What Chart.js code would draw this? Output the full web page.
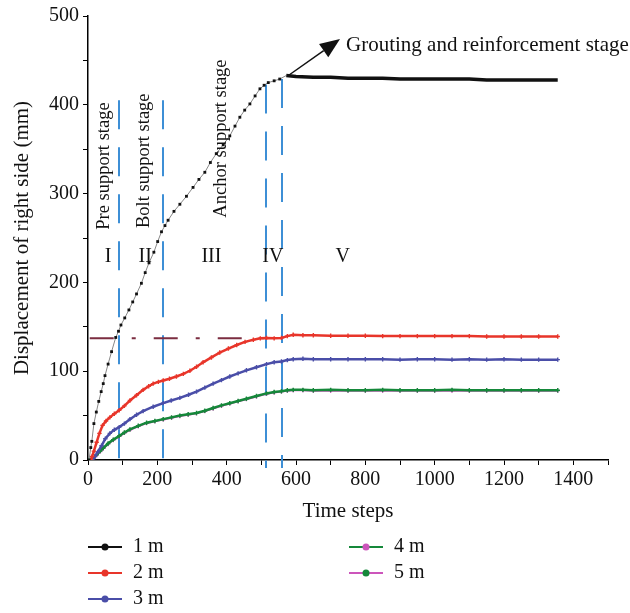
<!DOCTYPE html>
<html>
<head>
<meta charset="utf-8">
<script src="https://cdn.jsdelivr.net/npm/chart.js@4.4.0/dist/chart.umd.min.js"></script>
<style>
  html, body { margin: 0; padding: 0; background: #fff; }
  #wrap { width: 630px; height: 613px; position: relative; }
</style>
</head>
<body>
<div id="wrap"><canvas id="dispChart"></canvas></div>
<script>
// values (time step / displacement in mm)
const seriesNames = ['1 m', '2 m', '3 m', '4 m', '5 m'];

const steps1m = [3, 8, 11, 17, 24, 31, 38, 44, 49, 58, 68, 80, 88, 95, 106, 118, 129, 140, 154, 165, 176, 190, 201, 212, 222, 231, 248, 265, 284, 303, 320, 337, 353, 370, 390, 409, 424, 438, 452, 467, 482, 496, 508, 520, 537, 553, 572, 600, 650, 700, 750, 800, 850, 900, 950, 1000, 1050, 1100, 1150, 1200, 1250, 1300, 1355];
const disp1m = [0, 14, 21, 41, 54, 66, 77, 86, 95, 108, 122, 138, 145, 152, 160, 169, 178, 187, 199, 211, 222, 234, 246, 257, 264, 270, 280, 288, 297, 307, 316, 324, 335, 345, 355, 365, 376, 386, 394, 401, 410, 418, 422, 425, 427, 429, 433, 432, 431, 431, 430, 430, 430, 429, 429, 429, 429, 429, 428, 428, 428, 428, 428];

const steps2m = [8, 12, 17, 25, 33, 42, 52, 63, 76, 90, 105, 121, 140, 159, 175, 188, 203, 217, 235, 255, 275, 294, 313, 332, 356, 380, 405, 429, 453, 477, 497, 515, 537, 558, 575, 592, 620, 650, 700, 750, 800, 850, 900, 950, 1000, 1050, 1100, 1150, 1200, 1250, 1300, 1355];
const disp2m = [0, 4, 10, 20, 30, 39, 44, 48, 52, 56, 61, 67, 73, 79, 83, 86, 88, 89.5, 91.5, 94, 97, 100.5, 105, 110, 115.5, 121, 125.5, 129.5, 133, 135.5, 137, 137.5, 137, 137.5, 139.5, 141, 140.5, 140.5, 140, 140, 140, 139.5, 139.5, 139.5, 139.5, 139.5, 139.5, 139, 139, 139, 139, 139];

const steps3m = [12, 20, 28, 39, 50, 63, 76, 90, 105, 121, 140, 159, 188, 217, 240, 265, 290, 313, 337, 361, 385, 409, 433, 457, 486, 515, 537, 558, 575, 592, 620, 650, 700, 750, 800, 850, 900, 950, 1000, 1050, 1100, 1150, 1200, 1250, 1300, 1355];
const disp3m = [0, 4, 9, 16, 24, 30, 34, 37, 41, 46, 51, 55, 60, 64, 67, 70, 73.5, 77, 81.5, 86, 90, 94, 97.5, 101, 104.5, 108, 110, 111, 112.5, 113.5, 114, 113.5, 113.5, 113.5, 113.5, 113.5, 113, 113.5, 113.5, 113, 113.5, 113, 113.5, 113, 113, 113];

const stepsGreen = [0, 15, 25, 35, 44, 58, 73, 90, 105, 121, 145, 169, 193, 217, 241, 265, 289, 313, 337, 361, 385, 409, 433, 457, 486, 515, 537, 558, 575, 592, 620, 650, 700, 750, 800, 850, 900, 950, 1000, 1050, 1100, 1150, 1200, 1250, 1300, 1355];
const disp4m = [0, 2, 6, 10, 13.5, 18.5, 23, 27, 31, 34.5, 38.5, 42, 44, 46, 48, 50, 51.5, 53, 55.5, 58.5, 61.5, 64, 66.5, 69, 72, 75, 76.5, 77.5, 78.5, 79, 79, 78.5, 79, 78.5, 78.5, 79, 78.5, 78.5, 78.5, 79, 78.5, 78.5, 78.5, 78.5, 78.5, 78.5];
const disp5m = [0, 1.5, 5.5, 9.5, 13, 18, 22.5, 26.5, 30.5, 34, 38, 41.5, 43.5, 45.5, 47.5, 49.5, 51, 52.5, 55, 58, 61, 63.5, 66, 68.5, 71.5, 74.5, 76, 77, 78, 78.5, 78.5, 78, 78, 78, 78, 78, 78, 78, 78, 78, 78, 78, 78, 78, 78, 78];

// stage boundaries (time step) and how high each dashed line reaches (mm)
const stageSteps = [90, 215, 513, 559];
const stageTops = [405, 405, 423, 429];
const stageNumerals = ['I', 'II', 'III', 'IV', 'V'];
const numeralSteps = [58, 165, 356, 533, 735];
const stageNames = ['Pre support stage', 'Bolt support stage', 'Anchor support stage'];
const stageNameSteps = [46, 161, 383];
const stageNameLevels = [331, 337, 362];
const limitLevel = 137;
const limitRange = [5, 545];
const arrowFrom = [578, 433];
const arrowTo = [727, 474];

const colors = {
    black: '#111111',
    red: '#e8352a',
    blue: '#4a4ea8',
    green: '#15883a',
    magenta: '#cc55bb'
};

const serif = "'Liberation Serif', 'DejaVu Serif', serif";

function pairs(xs, ys) {
    return xs.map((x, i) => ({ x: x, y: ys[i] }));
}

const annotations = {
    id: 'annotations',
    beforeDatasetsDraw(chart) {
        const ctx = chart.ctx;
        const xs = chart.scales.x, ys = chart.scales.y;
        ctx.save();
        // dashed stage boundaries
        ctx.strokeStyle = '#3d8fd6';
        ctx.lineWidth = 2;
        ctx.setLineDash([29, 18]);
        stageSteps.forEach((s, i) => {
            const px = Math.round(xs.getPixelForValue(s));
            ctx.beginPath();
            ctx.moveTo(px, ys.getPixelForValue(stageTops[i]));
            ctx.lineTo(px, ys.getPixelForValue(0) + 8);
            ctx.stroke();
        });
        // dash-dot limit line
        ctx.strokeStyle = '#7b2d40';
        ctx.lineWidth = 2;
        ctx.setLineDash([24, 18, 4, 18]);
        ctx.beginPath();
        const py = ys.getPixelForValue(limitLevel);
        ctx.moveTo(xs.getPixelForValue(limitRange[0]), py);
        ctx.lineTo(xs.getPixelForValue(limitRange[1]), py);
        ctx.stroke();
        ctx.restore();
    },
    afterDraw(chart) {
        const ctx = chart.ctx;
        const xs = chart.scales.x, ys = chart.scales.y;
        ctx.save();
        ctx.fillStyle = '#111';
        ctx.textAlign = 'center';
        ctx.textBaseline = 'middle';

        // roman numerals
        ctx.font = '20px ' + serif;
        stageNumerals.forEach((n, i) => {
            ctx.fillText(n, xs.getPixelForValue(numeralSteps[i]), ys.getPixelForValue(229));
        });

        // rotated stage names
        ctx.font = '18.5px ' + serif;
        stageNames.forEach((name, i) => {
            ctx.save();
            ctx.translate(xs.getPixelForValue(stageNameSteps[i]), ys.getPixelForValue(stageNameLevels[i]));
            ctx.rotate(-Math.PI / 2);
            ctx.fillText(name, 0, 0);
            ctx.restore();
        });

        // arrow to the grouting label
        const x0 = xs.getPixelForValue(arrowFrom[0]), y0 = ys.getPixelForValue(arrowFrom[1]);
        const x1 = xs.getPixelForValue(arrowTo[0]), y1 = ys.getPixelForValue(arrowTo[1]);
        const ang = Math.atan2(y1 - y0, x1 - x0);
        const headLen = 20, headW = 8;
        const bx = x1 - headLen * Math.cos(ang), by = y1 - headLen * Math.sin(ang);
        ctx.strokeStyle = '#111';
        ctx.lineWidth = 1.5;
        ctx.beginPath();
        ctx.moveTo(x0, y0);
        ctx.lineTo(bx, by);
        ctx.stroke();
        ctx.beginPath();
        ctx.moveTo(x1, y1);
        ctx.lineTo(bx + headW * Math.sin(ang), by - headW * Math.cos(ang));
        ctx.lineTo(bx - headW * Math.sin(ang), by + headW * Math.cos(ang));
        ctx.closePath();
        ctx.fill();

        ctx.textAlign = 'left';
        ctx.font = '21px ' + serif;
        ctx.fillText('Grouting and reinforcement stage', x1 + 6, y1 + 6);

        // legend, two columns
        const legendItems = [
            { line: colors.black, dot: colors.black, col: 0, row: 0 },
            { line: colors.red, dot: colors.red, col: 0, row: 1 },
            { line: colors.blue, dot: colors.blue, col: 0, row: 2 },
            { line: colors.green, dot: colors.magenta, col: 1, row: 0 },
            { line: colors.magenta, dot: colors.green, col: 1, row: 1 }
        ];
        ctx.font = '20px ' + serif;
        legendItems.forEach((it, i) => {
            const lx = it.col === 0 ? 88 : 349;
            const ly = 547 + it.row * 26;
            ctx.strokeStyle = it.line;
            ctx.lineWidth = 2;
            ctx.beginPath();
            ctx.moveTo(lx, ly);
            ctx.lineTo(lx + 34, ly);
            ctx.stroke();
            ctx.fillStyle = it.dot;
            ctx.beginPath();
            ctx.arc(lx + 17, ly, 3.5, 0, Math.PI * 2);
            ctx.fill();
            ctx.fillStyle = '#111';
            ctx.fillText(seriesNames[i], lx + 45, ly);
        });
        ctx.restore();
    }
};

const ctx = document.getElementById('dispChart').getContext('2d');

new Chart(ctx, {
    type: 'line',
    data: {
        datasets: [
            {
                label: seriesNames[0],
                data: pairs(steps1m, disp1m),
                borderColor: colors.black,
                backgroundColor: colors.black,
                pointStyle: 'rect',
                pointRadius: c => (c.raw && c.raw.x < 570 ? 2 : 0),
                pointBorderWidth: 0,
                segment: {
                    borderWidth: c => (c.p0.parsed.x >= 560 ? 3.5 : 1),
                    borderColor: c => (c.p0.parsed.x >= 560 ? colors.black : '#888')
                },
                order: 1
            },
            {
                label: seriesNames[1],
                data: pairs(steps2m, disp2m),
                borderColor: colors.red,
                backgroundColor: colors.red,
                borderWidth: 2.5,
                pointStyle: 'cross',
                pointRadius: 2.2,
                pointBorderWidth: 1.4,
                order: 2
            },
            {
                label: seriesNames[2],
                data: pairs(steps3m, disp3m),
                borderColor: colors.blue,
                backgroundColor: colors.blue,
                borderWidth: 2.5,
                pointStyle: 'cross',
                pointRadius: 2.2,
                pointBorderWidth: 1.4,
                order: 3
            },
            {
                label: seriesNames[3],
                data: pairs(stepsGreen, disp4m),
                borderColor: colors.green,
                backgroundColor: colors.green,
                borderWidth: 2.5,
                pointStyle: 'cross',
                pointRadius: 2.2,
                pointBorderWidth: 1.4,
                order: 4
            },
            {
                label: seriesNames[4],
                data: pairs(stepsGreen, disp5m),
                borderColor: colors.magenta,
                backgroundColor: colors.magenta,
                borderWidth: 2,
                pointStyle: 'cross',
                pointRadius: 2.2,
                pointBorderWidth: 1.2,
                order: 5
            }
        ]
    },
    options: {
        responsive: true,
        maintainAspectRatio: false,
        animation: false,
        layout: { padding: { top: 15, right: 22, bottom: 83, left: 0 } },
        plugins: {
            legend: { display: false },
            tooltip: { enabled: false }
        },
        scales: {
            x: {
                type: 'linear',
                min: 0,
                max: 1500,
                afterFit: s => { s.height = 70; },
                border: { display: true, color: '#000', width: 1.5 },
                grid: { drawOnChartArea: false, drawTicks: true, tickLength: 5, color: '#000' },
                ticks: {
                    stepSize: 100,
                    autoSkip: false,
                    maxRotation: 0,
                    padding: 3,
                    color: '#111',
                    font: { family: serif, size: 20 },
                    callback: v => (v % 200 === 0 && v <= 1400 ? v : '')
                },
                title: {
                    display: true,
                    text: 'Time steps',
                    color: '#111',
                    font: { family: serif, size: 21 },
                    padding: { top: 0, bottom: 6 }
                }
            },
            y: {
                min: 0,
                max: 500,
                afterFit: s => { s.width = 88; },
                border: { display: true, color: '#000', width: 1.5 },
                grid: { drawOnChartArea: false, drawTicks: true, tickLength: 5, color: '#000' },
                ticks: {
                    stepSize: 50,
                    autoSkip: false,
                    padding: 4,
                    color: '#111',
                    font: { family: serif, size: 20 },
                    callback: v => (v % 100 === 0 ? v : '')
                },
                title: {
                    display: true,
                    text: 'Displacement of right side (mm)',
                    color: '#111',
                    font: { family: serif, size: 21 },
                    padding: { top: 10, bottom: 0 }
                }
            }
        }
    },
    plugins: [annotations]
});
</script>
</body>
</html>
